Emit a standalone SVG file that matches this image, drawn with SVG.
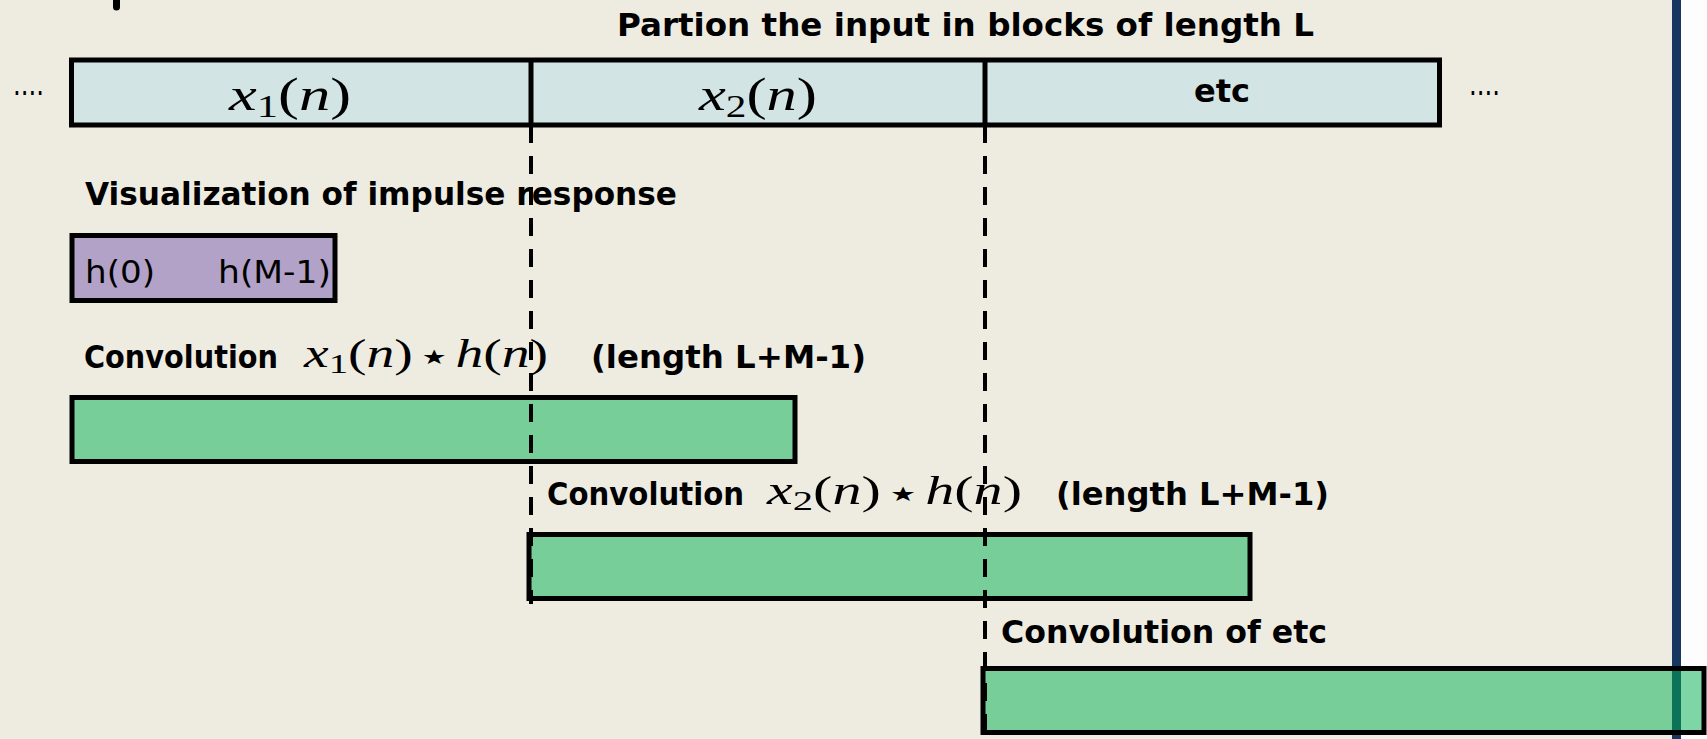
<svg xmlns="http://www.w3.org/2000/svg" width="1707" height="739" viewBox="0 0 1707 739">
<style>
.b{font-family:"DejaVu Sans","Liberation Sans",sans-serif;font-weight:bold;font-size:32px;fill:#000}
.r{font-family:"DejaVu Sans","Liberation Sans",sans-serif;font-size:32px;fill:#000}
.m{font-family:"Liberation Serif","DejaVu Serif",serif;fill:#000}
.i{font-style:italic}
.st{font-family:"DejaVu Sans",sans-serif;font-size:20px}
.box{stroke:#000;stroke-width:5}
.blue{fill:#d2e5e4}
.green{fill:#00b050;fill-opacity:0.5}
.purple{fill:#b3a2c7}
.dash{stroke:#000;stroke-width:4;stroke-dasharray:18 13;fill:none}
.div{stroke:#000;stroke-width:5}
</style>
<rect x="0" y="0" width="1707" height="739" fill="#eeece1"/>
<rect x="1681" y="0" width="26" height="739" fill="#fdfdfd"/>
<rect x="1672" y="0" width="9" height="739" fill="#17375e"/>
<line x1="116.5" y1="-5" x2="116.5" y2="7" stroke="#000" stroke-width="7" stroke-linecap="round"/>

<g id="title">
<text class="b" x="617" y="36" textLength="697" lengthAdjust="spacingAndGlyphs">Partion the input in blocks of length L</text>
</g>

<g id="input-bar">
<rect class="box blue" x="71.5" y="60" width="1368" height="65"/>
<line class="div" x1="531" y1="60" x2="531" y2="125"/>
<line class="div" x1="985" y1="60" x2="985" y2="125"/>
<text class="r" x="13" y="95" font-size="16" textLength="31" lengthAdjust="spacingAndGlyphs">....</text>
<text class="r" x="1469" y="95" font-size="16" textLength="31" lengthAdjust="spacingAndGlyphs">....</text>
</g>
<g id="x1">
<text class="m" x="229" y="110" font-size="47" textLength="122" lengthAdjust="spacingAndGlyphs"><tspan class="i">x</tspan><tspan font-size="32" dy="7">1</tspan><tspan dy="-7">(</tspan><tspan class="i">n</tspan>)</text>
</g>
<g id="x2">
<text class="m" x="699" y="110" font-size="47" textLength="118" lengthAdjust="spacingAndGlyphs"><tspan class="i">x</tspan><tspan font-size="32" dy="7">2</tspan><tspan dy="-7">(</tspan><tspan class="i">n</tspan>)</text>
</g>
<g id="etc">
<text class="b" x="1194" y="102" font-size="30" textLength="56" lengthAdjust="spacingAndGlyphs">etc</text>
</g>

<g id="impulse">
<text class="b" x="85" y="205" textLength="592" lengthAdjust="spacingAndGlyphs">Visualization of impulse response</text>
<rect class="box purple" x="72" y="235.5" width="263" height="65"/>
<text class="r" x="85" y="283" textLength="70" lengthAdjust="spacingAndGlyphs">h(0)</text>
<text class="r" x="218" y="283" textLength="113" lengthAdjust="spacingAndGlyphs">h(M-1)</text>
</g>

<g id="conv1">
<text class="b" x="84" y="368" textLength="194" lengthAdjust="spacingAndGlyphs">Convolution</text>
<text class="m" x="304" y="367" font-size="40" textLength="244" lengthAdjust="spacingAndGlyphs"><tspan class="i">x</tspan><tspan font-size="28" dy="6">1</tspan><tspan dy="-6">(</tspan><tspan class="i">n</tspan>)<tspan class="st" dy="-3"> ★ </tspan><tspan class="i" dy="3">h</tspan>(<tspan class="i">n</tspan>)</text>
<text class="b" x="591" y="368" textLength="275" lengthAdjust="spacingAndGlyphs">(length L+M-1)</text>
<rect class="box green" x="72" y="397.5" width="723" height="64"/>
</g>

<g id="conv2">
<text class="b" x="547" y="505" textLength="197" lengthAdjust="spacingAndGlyphs">Convolution</text>
<text class="m" x="767" y="504" font-size="40" textLength="255" lengthAdjust="spacingAndGlyphs"><tspan class="i">x</tspan><tspan font-size="28" dy="6">2</tspan><tspan dy="-6">(</tspan><tspan class="i">n</tspan>)<tspan class="st" dy="-3"> ★ </tspan><tspan class="i" dy="3">h</tspan>(<tspan class="i">n</tspan>)</text>
<text class="b" x="1056" y="505" textLength="273" lengthAdjust="spacingAndGlyphs">(length L+M-1)</text>
<rect class="box green" x="529" y="534.5" width="721" height="64"/>
</g>

<g id="conv3">
<text class="b" x="1001" y="643" textLength="326" lengthAdjust="spacingAndGlyphs">Convolution of etc</text>
<rect class="box green" x="983" y="668.5" width="721" height="64"/>
</g>

<g id="connectors">
<line class="dash" x1="531" y1="125" x2="531" y2="604"/>
<line class="dash" x1="985" y1="125" x2="985" y2="739"/>
</g>
</svg>
